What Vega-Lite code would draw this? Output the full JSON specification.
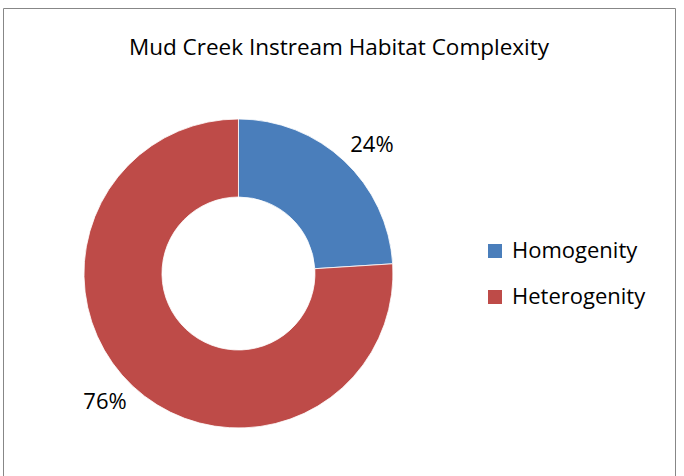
{
  "$schema": "https://vega.github.io/schema/vega-lite/v6.json",
  "autosize": "none",
  "width": 672,
  "height": 470,
  "padding": {"left": 3, "top": 8, "right": 9, "bottom": -2},
  "background": "white",
  "config": {
    "view": {"stroke": "#878787", "strokeWidth": 1},
    "font": "Open Sans"
  },
  "title": {
    "text": "Mud Creek Instream Habitat  Complexity",
    "font": "Open Sans",
    "fontSize": 22.5,
    "fontWeight": "normal",
    "color": "#000000",
    "anchor": "middle",
    "baseline": "alphabetic",
    "offset": -69
  },
  "data": {
    "values": [
      {"category": "Homogenity", "value": 24, "label": "24%"},
      {"category": "Heterogenity", "value": 76, "label": "76%"}
    ]
  },
  "layer": [
    {
      "mark": {"type": "arc", "outerRadius": 154.5, "innerRadius": 76.5, "stroke": "#ffffff", "strokeWidth": 0.8},
      "encoding": {
        "x": {"datum": 0.3504, "type": "quantitative", "scale": {"domain": [0, 1]}, "axis": null},
        "y": {"datum": 0.5649, "type": "quantitative", "scale": {"domain": [0, 1], "reverse": true}, "axis": null},
        "theta": {"field": "value", "type": "quantitative", "stack": true},
        "order": {"field": "category", "sort": "descending"},
        "color": {
          "field": "category",
          "type": "nominal",
          "scale": {"domain": ["Homogenity", "Heterogenity"], "range": ["#4A7EBB", "#BE4B48"]},
          "legend": {
            "title": null,
            "orient": "none",
            "legendX": 481,
            "legendY": 232,
            "padding": 0,
            "symbolType": "square",
            "symbolSize": 196,
            "symbolStrokeWidth": 0,
            "labelFont": "Open Sans",
            "labelFontSize": 22,
            "labelColor": "#000000",
            "labelOffset": 6,
            "rowPadding": 24,
            "labelLimit": 300
          }
        }
      }
    },
    {
      "mark": {"type": "text", "radius": 185, "thetaOffset": 0.052, "font": "Open Sans", "fontSize": 22, "color": "#000000", "baseline": "middle", "align": "center"},
      "encoding": {
        "x": {"datum": 0.3504, "type": "quantitative", "scale": {"domain": [0, 1]}, "axis": null},
        "y": {"datum": 0.5649, "type": "quantitative", "scale": {"domain": [0, 1], "reverse": true}, "axis": null},
        "theta": {"field": "value", "type": "quantitative", "stack": true},
        "order": {"field": "category", "sort": "descending"},
        "text": {"field": "label", "type": "nominal"}
      }
    }
  ]
}
